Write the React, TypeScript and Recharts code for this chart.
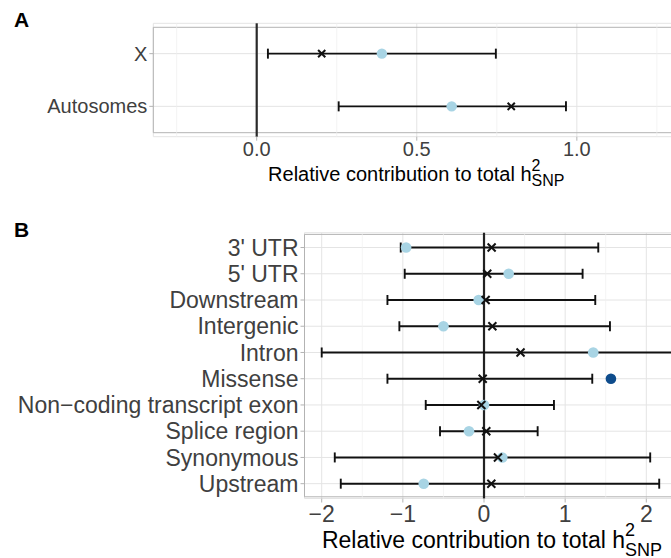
import React from 'react';
import {
  ScatterChart,
  Scatter,
  XAxis,
  YAxis,
  CartesianGrid,
  ErrorBar,
  ReferenceLine,
  ReferenceArea,
} from 'recharts';

// ---------- Panel A data ----------
const categoriesA = ['X', 'Autosomes'];
const estimateA = [0.203, 0.795];
const lowerA = [0.035, 0.256];
const upperA = [0.747, 0.966];
const observedA = [0.391, 0.609];
const majorTicksA = [0, 0.5, 1.0];
const minorTicksA = [-0.25, 0.25, 0.75, 1.25];
const domainA: [number, number] = [-0.323, 1.32];

// ---------- Panel B data ----------
const categoriesB = [
  "3' UTR",
  "5' UTR",
  'Downstream',
  'Intergenic',
  'Intron',
  'Missense',
  'Non−coding transcript exon',
  'Splice region',
  'Synonymous',
  'Upstream',
];
const estimateB = [0.094, 0.04, 0.02, 0.103, 0.45, -0.016, -0.033, 0.028, 0.172, 0.09];
const lowerB = [-1.026, -0.977, -1.19, -1.043, -2.0, -1.19, -0.718, -0.542, -1.839, -1.765];
const upperB = [1.408, 1.215, 1.371, 1.552, 2.6, 1.334, 0.862, 0.661, 2.048, 2.159];
const observedB = [-0.96, 0.304, -0.066, -0.5, 1.346, 1.564, 0.0, -0.185, 0.225, -0.743];
const significantB = ['Missense'];
const majorTicksB = [-2, -1, 0, 1, 2];
const minorTicksB = [-1.5, -0.5, 0.5, 1.5];
const domainB: [number, number] = [-2.212, 2.409];

const LIGHT = '#A8D4E4';
const DARK = '#0E4C8C';
const GRID = '#E4E4E4';
const MINOR = '#EFEFEF';
const BORDER = '#B3B3B3';
const TICKTXT = '#404040';

const buildBars = (cats: string[], est: number[], lo: number[], hi: number[]) =>
  cats.map((name, i) => ({ name, x: est[i], err: [est[i] - lo[i], hi[i] - est[i]] }));
const buildPts = (cats: string[], vals: number[], sig: string[] = []) =>
  cats.map((name, i) => ({ name, x: vals[i], sig: sig.includes(name) }));

const crossShape = (h: number) => (p: any) => {
  const { cx, cy } = p;
  if (cx == null || cy == null) return <g />;
  return (
    <path
      d={`M${cx - h},${cy - h}L${cx + h},${cy + h}M${cx - h},${cy + h}L${cx + h},${cy - h}`}
      stroke="#111"
      strokeWidth={2}
      fill="none"
    />
  );
};

const dotShape = (r: number) => (p: any) => {
  const { cx, cy, payload } = p;
  if (cx == null || cy == null) return <g />;
  return <circle cx={cx} cy={cy} r={r} fill={payload && payload.sig ? DARK : LIGHT} />;
};

const emptyShape = () => <g />;

const makeTitle = (size: number, sub: number, base: number, supUp: number, subDown: number) => (props: any) => {
  const vb = props.viewBox || {};
  const cx = vb.x + vb.width / 2;
  return (
    <text x={cx} y={vb.y + base} textAnchor="middle" fill="#000" fontSize={size}>
      Relative contribution to total h
      <tspan fontSize={sub} dy={-supUp}>2</tspan>
      <tspan fontSize={sub} dx={-0.556 * sub} dy={supUp + subDown}>SNP</tspan>
    </text>
  );
};

const fmtA = (v: number) => v.toFixed(1);
const fmtB = (v: number) => (v < 0 ? '−' + Math.abs(v) : String(v));

const barsA = buildBars(categoriesA, estimateA, lowerA, upperA);
const ptsA = buildPts(categoriesA, observedA);
const crossA = buildPts(categoriesA, estimateA);
const barsB = buildBars(categoriesB, estimateB, lowerB, upperB);
const ptsB = buildPts(categoriesB, observedB, significantB);
const crossB = buildPts(categoriesB, estimateB);

export default function App() {
  return (
    <div
      style={{
        position: 'absolute',
        left: 0,
        top: 0,
        width: 671,
        height: 558,
        overflow: 'hidden',
        background: '#fff',
        fontFamily: "'Liberation Sans', Arial, Helvetica, sans-serif",
      }}
    >
      <div style={{ position: 'absolute', left: 0, top: 0 }}>
        <ScatterChart width={700} height={200} margin={{ top: 23.3, right: 20.7, left: 0, bottom: 13.3 }}>
          <CartesianGrid stroke={GRID} strokeWidth={1} />
          {minorTicksA.map((v) => (
            <ReferenceLine key={v} x={v} stroke={MINOR} strokeWidth={0.7} />
          ))}
          <ReferenceArea x1={domainA[0]} x2={domainA[1]} fill="none" stroke={BORDER} strokeWidth={1} />
          <ReferenceLine x={0} stroke="#2a2a2a" strokeWidth={2.2} />
          <XAxis
            type="number"
            dataKey="x"
            domain={domainA}
            allowDataOverflow
            ticks={majorTicksA}
            tickFormatter={fmtA}
            tickSize={4}
            tickMargin={1}
            height={50}
            axisLine={false}
            tick={{ fill: TICKTXT, fontSize: 20 }}
            tickLine={{ stroke: BORDER }}
            label={makeTitle(20, 16, 44.5, 10, 5)}
          />
          <YAxis
            type="category"
            dataKey="name"
            allowDuplicatedCategory={false}
            reversed
            width={153.3}
            tickSize={4}
            tickMargin={2}
            interval={0}
            axisLine={false}
            padding={{ top: 4, bottom: 4 }}
            tick={{ fill: TICKTXT, fontSize: 20 }}
            tickLine={{ stroke: BORDER }}
          />
          <Scatter data={barsA} shape={emptyShape} isAnimationActive={false}>
            <ErrorBar dataKey="err" direction="x" width={5} stroke="#111" strokeWidth={1.9} />
          </Scatter>
          <Scatter data={ptsA} shape={dotShape(5.2)} isAnimationActive={false} />
          <Scatter data={crossA} shape={crossShape(3.6)} isAnimationActive={false} />
        </ScatterChart>
      </div>

      <div style={{ position: 'absolute', left: 0, top: 200 }}>
        <ScatterChart width={700} height={358} margin={{ top: 32.7, right: 20.5, left: 0, bottom: 9.5 }}>
          <CartesianGrid stroke={GRID} strokeWidth={1} />
          {minorTicksB.map((v) => (
            <ReferenceLine key={v} x={v} stroke={MINOR} strokeWidth={0.7} />
          ))}
          <ReferenceArea x1={domainB[0]} x2={domainB[1]} fill="none" stroke={BORDER} strokeWidth={1} />
          <ReferenceLine x={0} stroke="#222" strokeWidth={2.2} />
          <XAxis
            type="number"
            dataKey="x"
            domain={domainB}
            allowDataOverflow
            ticks={majorTicksB}
            tickFormatter={fmtB}
            tickSize={4}
            tickMargin={3}
            height={50}
            axisLine={false}
            tick={{ fill: TICKTXT, fontSize: 23 }}
            tickLine={{ stroke: BORDER }}
            label={makeTitle(23, 18, 49, 12, 8)}
          />
          <YAxis
            type="category"
            dataKey="name"
            allowDuplicatedCategory={false}
            reversed
            width={304.5}
            tickSize={4}
            tickMargin={2}
            interval={0}
            axisLine={false}
            padding={{ top: 1.7, bottom: 1.7 }}
            tick={{ fill: TICKTXT, fontSize: 23 }}
            tickLine={{ stroke: BORDER }}
          />
          <Scatter data={barsB} shape={emptyShape} isAnimationActive={false}>
            <ErrorBar dataKey="err" direction="x" width={5} stroke="#111" strokeWidth={1.9} />
          </Scatter>
          <Scatter data={ptsB} shape={dotShape(5.3)} isAnimationActive={false} />
          <Scatter data={crossB} shape={crossShape(4)} isAnimationActive={false} />
        </ScatterChart>
      </div>

      <svg
        width={671}
        height={558}
        style={{ position: 'absolute', left: 0, top: 0, pointerEvents: 'none' }}
      >
        <text x={14} y={26.7} fontSize={21} fontWeight="bold" fill="#000">
          A
        </text>
        <text x={14} y={236.5} fontSize={21} fontWeight="bold" fill="#000">
          B
        </text>
      </svg>
    </div>
  );
}
